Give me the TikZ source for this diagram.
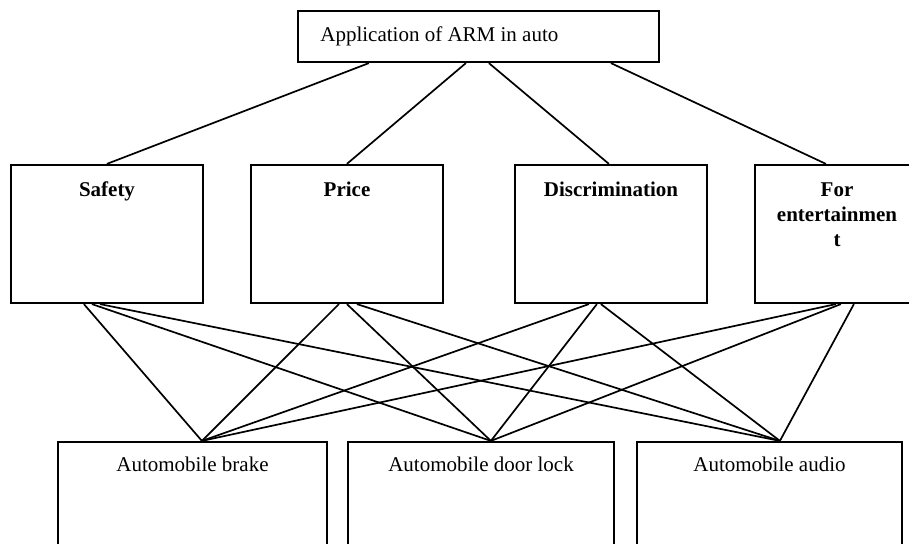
\documentclass[tikz,border=0pt]{standalone}
\usepackage{fontspec}
\setmainfont{Liberation Serif}
\usetikzlibrary{calc}
\begin{document}
\begin{tikzpicture}[x=0.5pt,y=-0.5pt,
  box/.style={draw, line width=1.1pt, inner sep=0pt},
  lbl/.style={font=\fontsize{10.5}{12.5}\selectfont, inner sep=0pt, anchor=base},
  blbl/.style={font=\fontsize{10.5}{12.5}\selectfont\bfseries, inner sep=0pt, anchor=base},
  link/.style={line width=0.85pt}]
\useasboundingbox (0,0) rectangle (909,544);
% top
\node[box, minimum width=180.5pt, minimum height=25.5pt] (top) at (478.5,36.5) {};
\node[lbl, anchor=base west] (toptext) at (320,42) {Application of ARM in auto};
% middle
\node[box, minimum width=96pt, minimum height=69pt] (safety) at (107,234) {};
\node[box, minimum width=96pt, minimum height=69pt] (price) at (347,234) {};
\node[box, minimum width=96pt, minimum height=69pt] (disc) at (611,234) {};
\node[box, minimum width=96pt, minimum height=69pt] (ent) at (851,234) {};
\node[blbl] (safetytext) at (107,197) {Safety};
\node[blbl] (pricetext) at (347,197) {Price};
\node[blbl] (disctext) at (611,197) {Discrimination};
\node[blbl] (enttext1) at (837,197) {For};
\node[blbl] (enttext2) at (837,222) {entertainmen};
\node[blbl] (enttext3) at (837,247) {t};
% bottom
\node[box, minimum width=134.5pt, minimum height=80pt] (brake) at (192.5,522) {};
\node[box, minimum width=133pt, minimum height=80pt] (door) at (481,522) {};
\node[box, minimum width=132.5pt, minimum height=80pt] (audio) at (769.5,522) {};
\node[lbl] (braketext) at (192.5,472) {Automobile brake};
\node[lbl] (doortext) at (481,472) {Automobile door lock};
\node[lbl] (audiotext) at (769.5,472) {Automobile audio};
% top connectors
\draw[link] ($(top.south west)+(72,0)$) -- ($(safety.north west)+(97,0)$);
\draw[link] ($(top.south west)+(169,0)$) -- ($(price.north west)+(97,0)$);
\draw[link] ($(top.south west)+(192,0)$) -- ($(disc.north west)+(95,0)$);
\draw[link] ($(top.south west)+(314,0)$) -- ($(ent.north west)+(72,0)$);
% bottom connectors
\foreach \src/\da/\db/\dc in {safety/74/82/90, price/89/97/107, disc/75/83/87, ent/82/87/100}{
  \draw[link] ($(\src.south west)+(\da,0)$) -- ($(brake.north west)+(145,0)$);
  \draw[link] ($(\src.south west)+(\db,0)$) -- ($(door.north west)+(144,0)$);
  \draw[link] ($(\src.south west)+(\dc,0)$) -- ($(audio.north west)+(144,0)$);
}
\end{tikzpicture}
\end{document}
